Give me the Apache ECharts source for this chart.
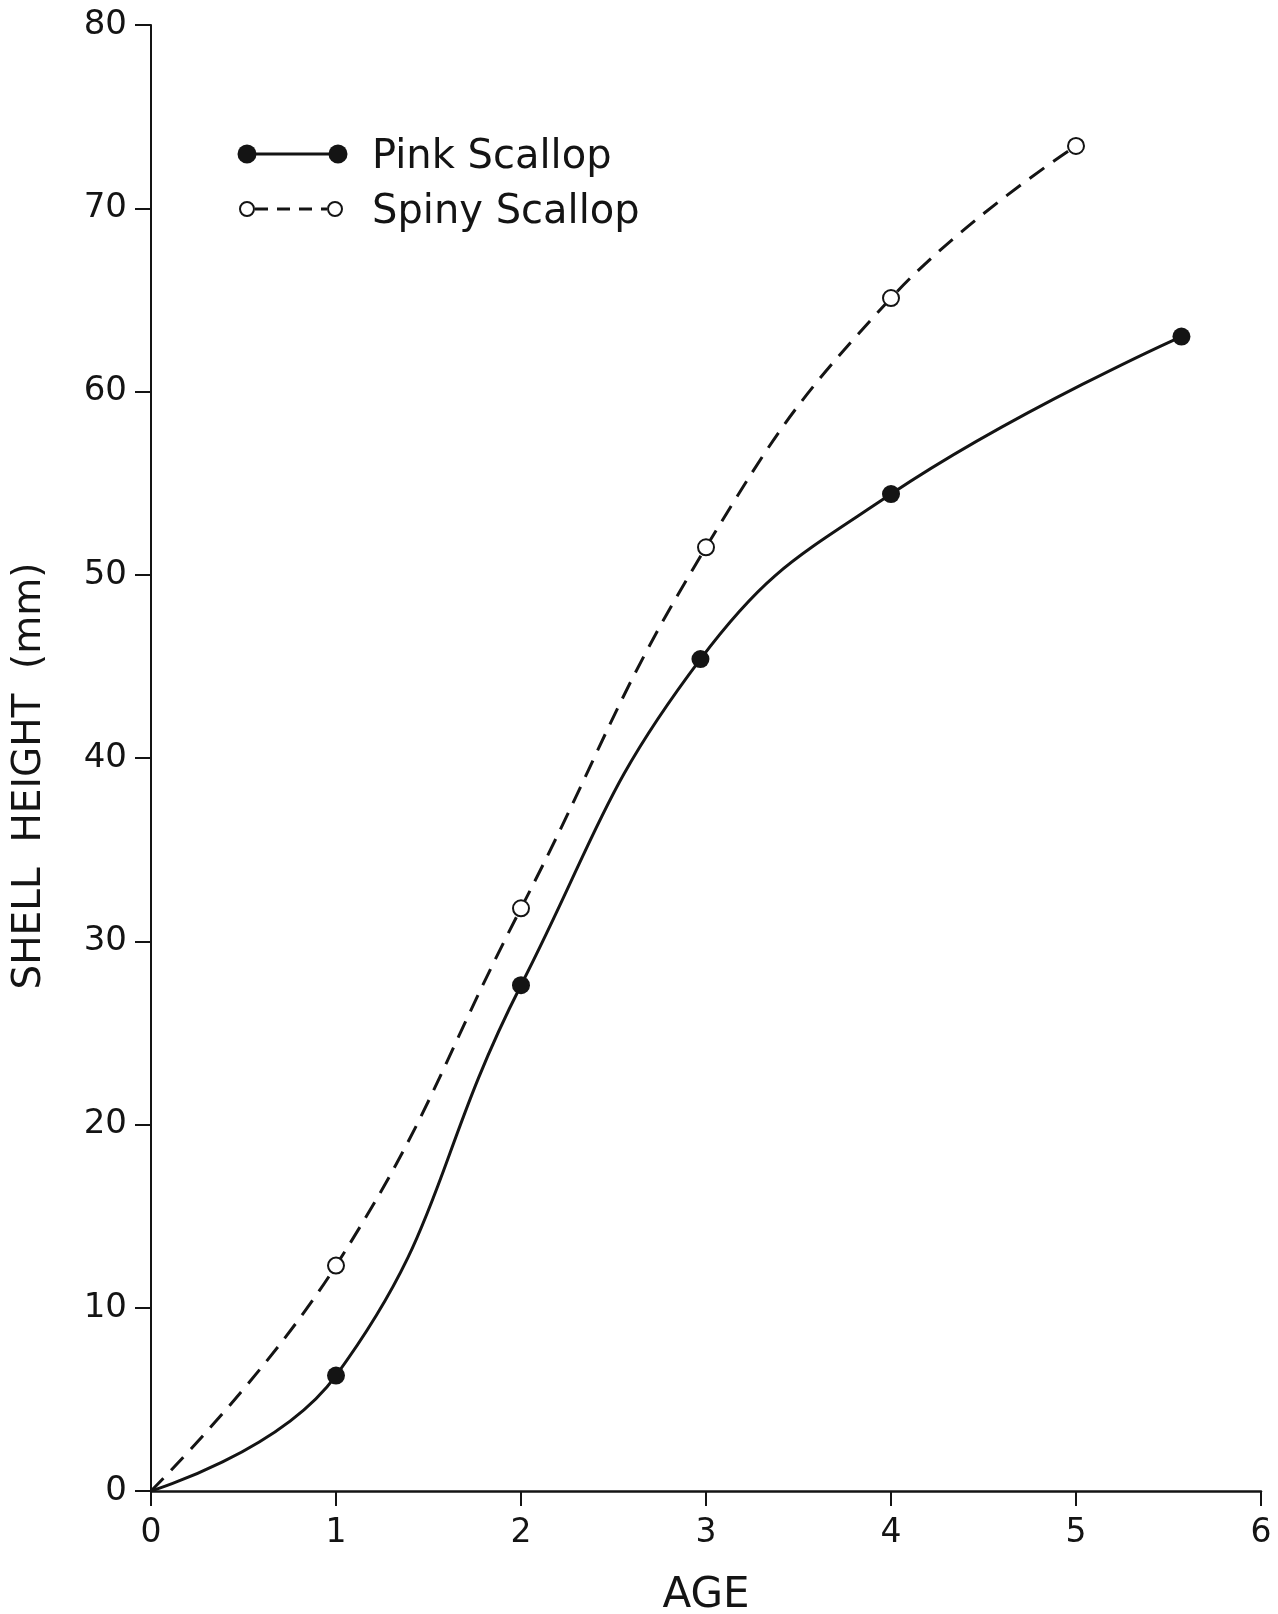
<!DOCTYPE html>
<html>
<head>
<meta charset="utf-8">
<title>Shell height by age</title>
<script src="https://cdn.jsdelivr.net/npm/echarts@6/dist/echarts.min.js"></script>
<style>
  html, body { margin: 0; padding: 0; background: #fff; }
  #chart { width: 1278px; height: 1614px; }
</style>
</head>
<body>
<div id="chart"></div>
<script>
// Age (years) and mean shell height (mm) for each species
const pinkAge = [0, 1, 2, 2.97, 4, 5.57];
const pinkHeight = [0, 6.3, 27.6, 45.4, 54.4, 63.0];
const spinyAge = [0, 1, 2, 3, 4, 5];
const spinyHeight = [0, 12.3, 31.8, 51.5, 65.1, 73.4];

const xTicks = [0, 1, 2, 3, 4, 5, 6];
const yTicks = [0, 10, 20, 30, 40, 50, 60, 70, 80];

const seriesNames = ['Pink Scallop', 'Spiny Scallop'];

const FONT = '"DejaVu Sans", sans-serif';
const INK = '#141414';

// curves start at the origin, which carries no marker
function pairs(xs, ys) {
  return xs.map((x, i) => (x === 0 && ys[i] === 0)
    ? { value: [x, ys[i]], symbol: 'none' }
    : [x, ys[i]]);
}

const chart = echarts.init(document.getElementById('chart'), null, { renderer: 'canvas' });

chart.setOption({
  backgroundColor: '#ffffff',
  animation: false,
  grid: {
    left: 151, right: 17, top: 25, bottom: 123,
    containLabel: false,
    outerBoundsMode: 'none'
  },
  xAxis: {
    type: 'value',
    min: xTicks[0],
    max: xTicks[xTicks.length - 1],
    interval: 1,
    name: 'AGE',
    nameLocation: 'middle',
    nameGap: 84,
    nameTextStyle: { fontFamily: FONT, fontSize: 42, color: INK },
    axisLine: { show: true, lineStyle: { color: INK, width: 2.5 } },
    axisTick: { show: true, inside: false, length: 15, lineStyle: { color: INK, width: 2 } },
    axisLabel: { margin: 26, fontFamily: FONT, fontSize: 33, color: INK },
    splitLine: { show: false }
  },
  yAxis: {
    type: 'value',
    min: yTicks[0],
    max: yTicks[yTicks.length - 1],
    interval: 10,
    name: 'SHELL  HEIGHT  (mm)',
    nameLocation: 'middle',
    nameGap: 102,
    nameRotate: 90,
    nameTextStyle: { fontFamily: FONT, fontSize: 39, color: INK, padding: [0, 36, 0, 0] },
    axisLine: { show: true, lineStyle: { color: INK, width: 2 } },
    axisTick: { show: true, inside: false, length: 16, lineStyle: { color: INK, width: 2 } },
    axisLabel: { margin: 24, fontFamily: FONT, fontSize: 34, color: INK },
    splitLine: { show: false }
  },
  series: [
    {
      name: seriesNames[0],
      type: 'line',
      data: pairs(pinkAge, pinkHeight),
      smooth: 0.45,
      symbol: 'circle',
      symbolSize: 18,
      showSymbol: true,
      itemStyle: { color: INK },
      lineStyle: { color: INK, width: 3 },
      z: 3
    },
    {
      name: seriesNames[1],
      type: 'line',
      data: pairs(spinyAge, spinyHeight),
      smooth: 0.45,
      symbol: 'circle',
      symbolSize: 16,
      showSymbol: true,
      itemStyle: { color: '#ffffff', borderColor: INK, borderWidth: 2 },
      lineStyle: { color: INK, width: 3, type: [18, 11] },
      z: 4
    }
  ],
  graphic: [
    // legend: pink scallop (solid line, filled dots)
    { type: 'line', shape: { x1: 247, y1: 154, x2: 338, y2: 154 }, style: { stroke: INK, lineWidth: 3 } },
    { type: 'circle', shape: { cx: 247, cy: 154, r: 9.5 }, style: { fill: INK } },
    { type: 'circle', shape: { cx: 338, cy: 154, r: 9.5 }, style: { fill: INK } },
    { type: 'text', x: 372, y: 158, style: { text: seriesNames[0], font: '40px "DejaVu Sans", sans-serif', fill: INK, verticalAlign: 'middle' } },
    // legend: spiny scallop (dashed line, open dots)
    { type: 'line', shape: { x1: 255, y1: 209, x2: 327, y2: 209 }, style: { stroke: INK, lineWidth: 3, lineDash: [13, 9] } },
    { type: 'circle', shape: { cx: 247, cy: 209, r: 7 }, style: { fill: '#ffffff', stroke: INK, lineWidth: 2 } },
    { type: 'circle', shape: { cx: 335, cy: 209, r: 7 }, style: { fill: '#ffffff', stroke: INK, lineWidth: 2 } },
    { type: 'text', x: 372, y: 213, style: { text: seriesNames[1], font: '40px "DejaVu Sans", sans-serif', fill: INK, verticalAlign: 'middle' } }
  ]
});
</script>
</body>
</html>
